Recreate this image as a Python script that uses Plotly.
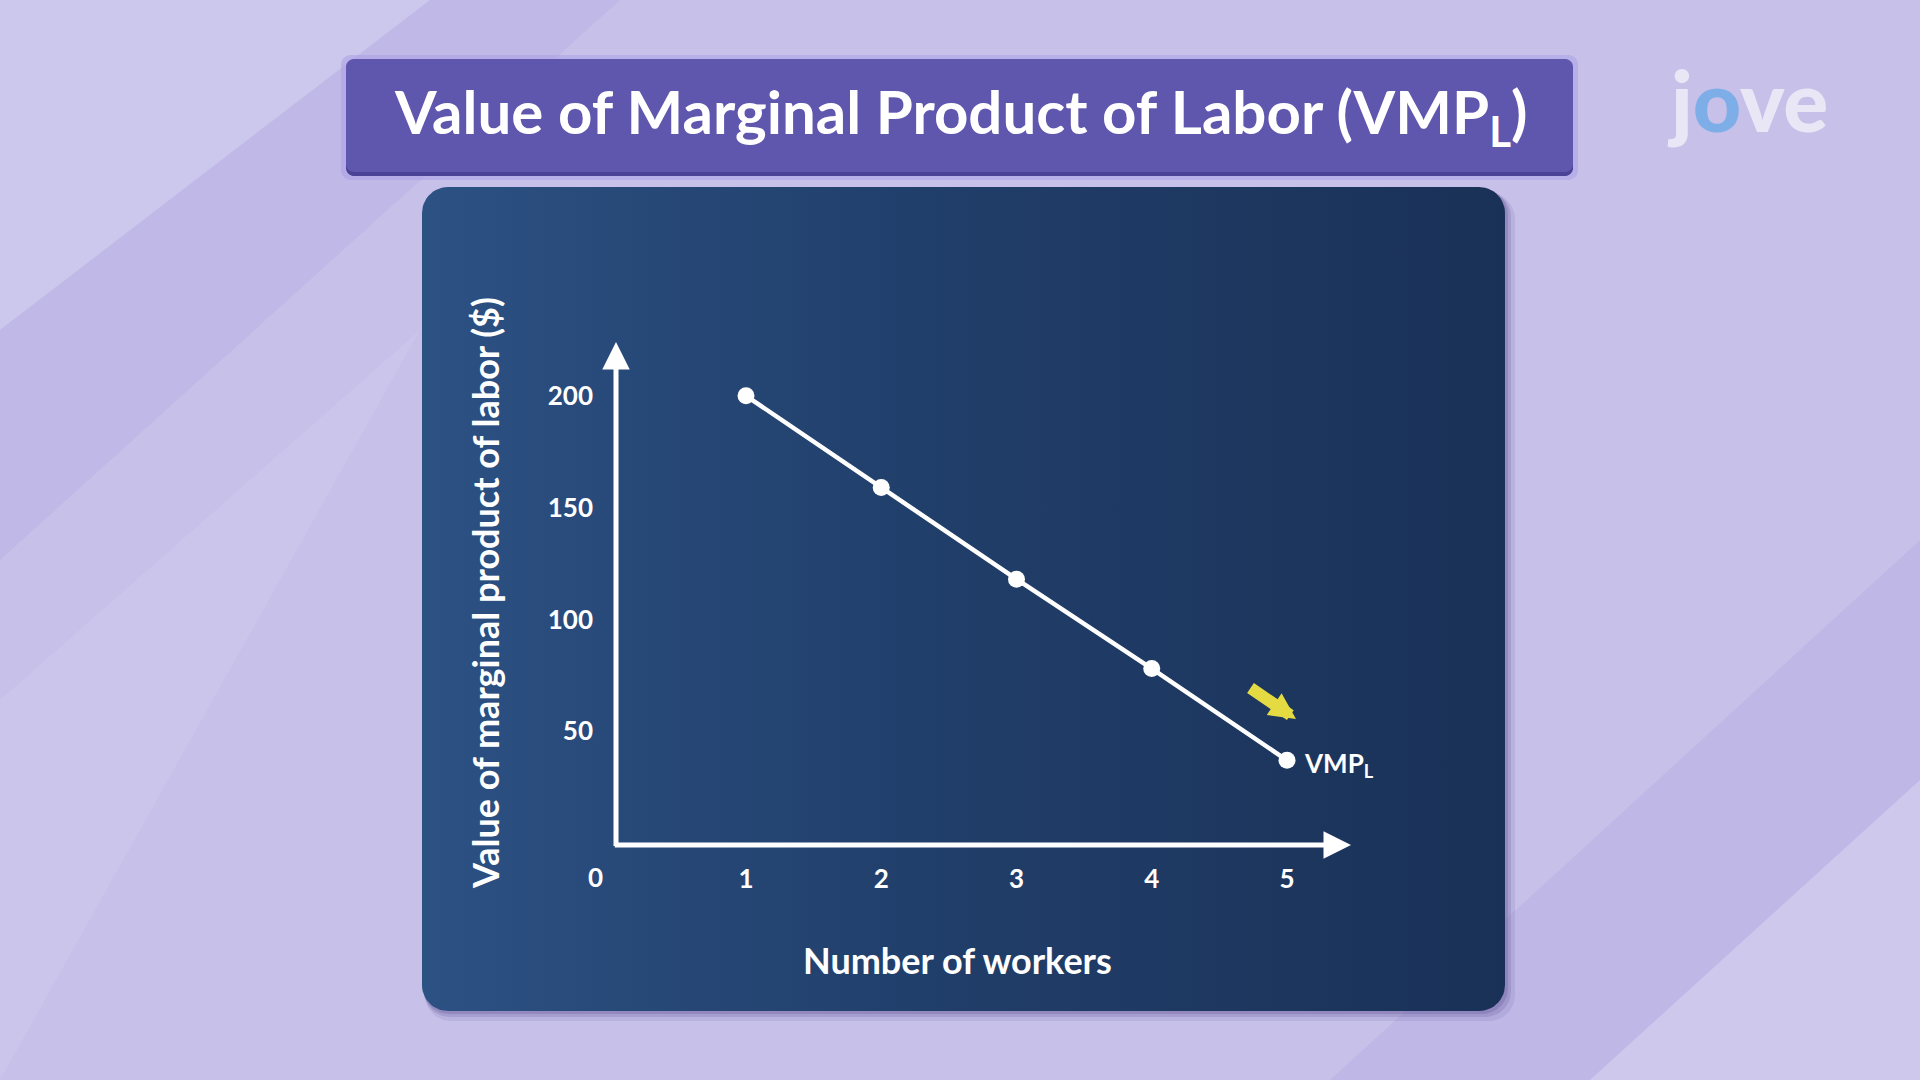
import numpy as np
import plotly.graph_objects as go

# ---------------- data ----------------
workers = [1, 2, 3, 4, 5]
vmpl = [200, 159, 118, 78, 37]
x_tickvals = [1, 2, 3, 4, 5]
x_ticktext = ["1", "2", "3", "4", "5"]
y_tickvals = [50, 100, 150, 200]
y_ticktext = ["50", "100", "150", "200"]
origin_label = "0"

title_text = "Value of Marginal Product of Labor (VMP<sub>L</sub>)"
x_title = "Number of workers"
y_title = "Value of marginal product of labor ($)"
curve_label = "VMP<sub>L</sub>"

# ---------------- layout calibration ----------------
W, H = 1920, 1080
X0_PX, X_UNIT = 610.75, 135.25   # pixel of x=0, pixels per worker
Y0_PX, Y_UNIT = 843.0, 2.236     # pixel of y=0, pixels per dollar


def dx(px):
    return (px - X0_PX) / X_UNIT


def dy(py):
    return (Y0_PX - py) / Y_UNIT


def rounded_pts(x0, y0, x1, y1, r, n=14):
    pts = []
    corners = [(x1 - r, y0 + r, -90, 0), (x1 - r, y1 - r, 0, 90),
               (x0 + r, y1 - r, 90, 180), (x0 + r, y0 + r, 180, 270)]
    for cx, cy, a0, a1 in corners:
        for t in np.linspace(a0, a1, n):
            pts.append((cx + r * np.cos(np.radians(t)), cy + r * np.sin(np.radians(t))))
    pts.append(pts[0])
    return pts


def rounded_path_paper(x0, y0, x1, y1, r):
    pts = rounded_pts(x0, y0, x1, y1, r)
    return "M " + " L ".join(f"{px / W:.5f},{1 - py / H:.5f}" for px, py in pts) + " Z"


def poly_path_paper(pts):
    return "M " + " L ".join(f"{px / W:.5f},{1 - py / H:.5f}" for px, py in pts) + " Z"


FONT = "Lato"
fig = go.Figure()

# panel shadow
for off, alpha in [(10, 0.10), (6, 0.14), (3, 0.18)]:
    sp = rounded_pts(422 + off * 0.3, 187 + off * 0.6, 1505 + off, 1011 + off, 26)
    fig.add_trace(go.Scatter(
        x=[dx(p[0]) for p in sp], y=[dy(p[1]) for p in sp],
        mode="lines", fill="toself", line=dict(width=0),
        fillcolor=f"rgba(60,45,120,{alpha})", hoverinfo="skip", showlegend=False))

# dark panel with horizontal gradient
pp = rounded_pts(422, 187, 1505, 1011, 26)
fig.add_trace(go.Scatter(
    x=[dx(p[0]) for p in pp], y=[dy(p[1]) for p in pp],
    mode="lines", fill="toself", line=dict(width=0),
    fillgradient=dict(type="horizontal",
                      colorscale=[[0, "#2c5183"], [0.45, "#213f6b"], [1, "#1a3157"]]),
    hoverinfo="skip", showlegend=False))

# data line
fig.add_trace(go.Scatter(
    x=workers, y=vmpl, mode="lines+markers",
    line=dict(color="#ffffff", width=4.5),
    marker=dict(color="#ffffff", size=17, line=dict(width=0)),
    hoverinfo="skip", showlegend=False, cliponaxis=False))

shapes = []
# background bands
shapes.append(dict(type="path", xref="paper", yref="paper", layer="below",
                   path=poly_path_paper([(0, 330), (430, 0), (620, 0), (0, 560)]),
                   fillcolor="rgba(150,135,215,0.14)", line=dict(width=0)))
shapes.append(dict(type="path", xref="paper", yref="paper", layer="below",
                   path=poly_path_paper([(0, 0), (430, 0), (0, 330)]),
                   fillcolor="rgba(255,255,255,0.10)", line=dict(width=0)))
shapes.append(dict(type="path", xref="paper", yref="paper", layer="below",
                   path=poly_path_paper([(1330, 1080), (1920, 540), (1920, 780), (1590, 1080)]),
                   fillcolor="rgba(150,135,215,0.16)", line=dict(width=0)))
shapes.append(dict(type="path", xref="paper", yref="paper", layer="below",
                   path=poly_path_paper([(1590, 1080), (1920, 780), (1920, 1080)]),
                   fillcolor="rgba(255,255,255,0.12)", line=dict(width=0)))
shapes.append(dict(type="path", xref="paper", yref="paper", layer="below",
                   path=poly_path_paper([(0, 700), (420, 330), (0, 1080)]),
                   fillcolor="rgba(255,255,255,0.07)", line=dict(width=0)))

# title box: glow, shadow, body
shapes.append(dict(type="path", xref="paper", yref="paper", layer="above",
                   path=rounded_path_paper(341, 55, 1578, 180, 10),
                   fillcolor="rgba(170,160,230,0.55)", line=dict(width=0)))
shapes.append(dict(type="path", xref="paper", yref="paper", layer="above",
                   path=rounded_path_paper(346, 62, 1573, 176, 8),
                   fillcolor="#4a4294", line=dict(width=0)))
shapes.append(dict(type="path", xref="paper", yref="paper", layer="above",
                   path=rounded_path_paper(346, 59, 1573, 172, 8),
                   fillcolor="#5f56ad", line=dict(width=0)))

annotations = []
# title
annotations.append(dict(xref="paper", yref="paper", x=960 / W, y=1 - 116 / H,
                        text=title_text, showarrow=False, xanchor="center", yanchor="middle",
                        font=dict(family=FONT, size=60, color="#ffffff", weight="bold")))
# logo
annotations.append(dict(xref="paper", yref="paper", x=1747 / W, y=1 - 100 / H,
                        text="j<span style='color:#7eaee8'>o</span>ve", showarrow=False,
                        xanchor="center", yanchor="middle",
                        font=dict(family=FONT, size=84, color="#e9e7f6", weight=900)))

# axes as arrows
x_axis_end = dx(1351)
y_axis_end = dy(342)
ax_x = dx(616)
ax_y = dy(845)
annotations.append(dict(x=x_axis_end, y=ax_y, ax=ax_x - 0.02, ay=ax_y, xref="x", yref="y",
                        axref="x", ayref="y", text="", showarrow=True, arrowhead=2,
                        arrowsize=1.1, arrowwidth=5, arrowcolor="#ffffff"))
annotations.append(dict(x=ax_x, y=y_axis_end, ax=ax_x, ay=ax_y - 1.1, xref="x", yref="y",
                        axref="x", ayref="y", text="", showarrow=True, arrowhead=2,
                        arrowsize=1.1, arrowwidth=5, arrowcolor="#ffffff"))

# yellow arrow
annotations.append(dict(x=dx(1296), y=dy(719), ax=dx(1249), ay=dy(687), xref="x", yref="y",
                        axref="x", ayref="y", text="", showarrow=True, arrowhead=2,
                        arrowsize=0.44, arrowwidth=12, arrowcolor="#e4da42"))

# origin label
annotations.append(dict(x=0, y=0, xref="x", yref="y", text=origin_label, showarrow=False,
                        xshift=-15, yshift=-34, xanchor="center", yanchor="middle",
                        font=dict(family=FONT, size=26, color="#ffffff", weight="bold")))

# curve label
annotations.append(dict(x=workers[-1], y=vmpl[-1], xref="x", yref="y", text=curve_label,
                        showarrow=False, xanchor="left", yanchor="middle", xshift=15, yshift=-4,
                        font=dict(family=FONT, size=26, color="#ffffff", weight="bold")))

# axis titles
annotations.append(dict(xref="paper", yref="paper", x=957 / W, y=1 - 960 / H, text=x_title,
                        showarrow=False, xanchor="center", yanchor="middle",
                        font=dict(family=FONT, size=36, color="#ffffff", weight="bold")))
annotations.append(dict(xref="paper", yref="paper", x=485 / W, y=1 - 593 / H, text=y_title,
                        showarrow=False, xanchor="center", yanchor="middle", textangle=-90,
                        font=dict(family=FONT, size=36, color="#ffffff", weight="bold")))

fig.update_layout(
    width=W, height=H,
    margin=dict(l=0, r=0, t=0, b=0),
    paper_bgcolor="#c7c1ea",
    plot_bgcolor="rgba(0,0,0,0)",
    shapes=shapes,
    annotations=annotations,
    xaxis=dict(range=[dx(0), dx(W)], domain=[0, 1], anchor="free", position=1 - 845 / H,
               tickvals=x_tickvals, ticktext=x_ticktext, showgrid=False, zeroline=False,
               showline=False, ticks="", ticklabelstandoff=16,
               tickfont=dict(family=FONT, size=26, color="#ffffff", weight="bold"),
               fixedrange=True),
    yaxis=dict(range=[dy(H), dy(0)], domain=[0, 1], anchor="free", position=616 / W,
               tickvals=y_tickvals, ticktext=y_ticktext, showgrid=False, zeroline=False,
               showline=False, ticks="", ticklabelstandoff=23,
               tickfont=dict(family=FONT, size=26, color="#ffffff", weight="bold"),
               fixedrange=True),
    showlegend=False,
)

fig.write_html(
    "out.html",
    config={"displayModeBar": False},
    post_script="document.body.style.margin='0';document.body.style.overflow='hidden';",
)
